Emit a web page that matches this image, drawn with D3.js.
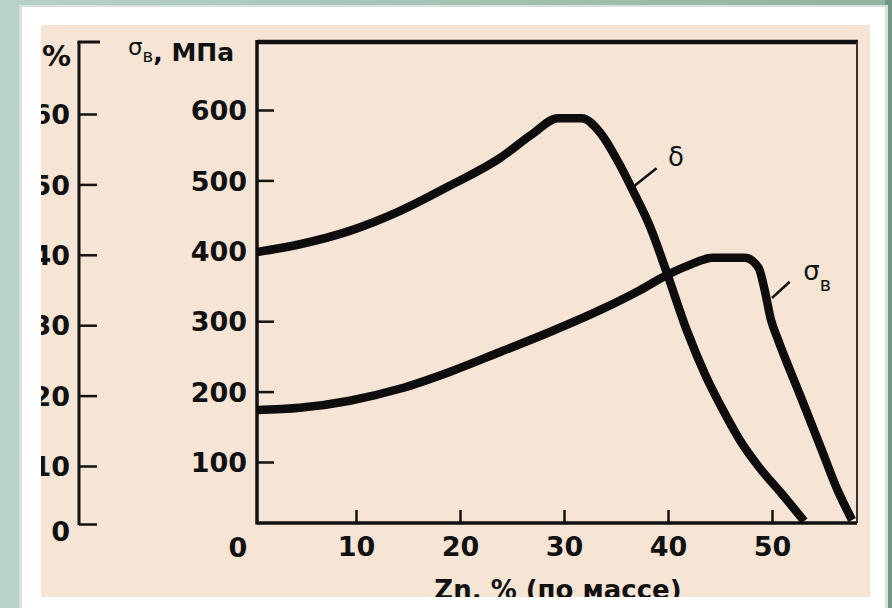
<!DOCTYPE html>
<html>
<head>
<meta charset="utf-8">
<script src="https://cdn.jsdelivr.net/npm/d3@7"></script>
<style>
  html, body { margin: 0; padding: 0; }
  body { width: 892px; height: 608px; overflow: hidden; }
  svg { display: block; font-family: 'DejaVu Sans', 'Liberation Sans', sans-serif; }
  .tick text { font-size: 27px; font-weight: bold; fill: #111; font-family: 'DejaVu Sans', sans-serif; }
  .tick line { stroke: #111; stroke-width: 2.5; }
</style>
</head>
<body>
<svg id="chart" width="892" height="608"></svg>
<script>
// Zn, % (by mass) vs elongation δ, %
const znDelta = [0.5, 4.6, 9.4, 14.2, 19.0, 23.8, 27.0, 29.4, 31.7, 33.5, 35.1, 36.6, 38.3, 39.9, 41.8, 43.6, 45.2, 46.9, 48.8, 50.8, 53.1];
const delta = [40.4, 41.5, 43.4, 46.2, 49.8, 53.7, 57.2, 59.4, 59.4, 57.3, 53.5, 49.2, 43.9, 37.4, 29.3, 22.9, 18.2, 13.7, 9.7, 5.5, 0.5];

// Zn, % (by mass) vs tensile strength σв, MPa
const znSigma = [0.5, 4.6, 9.4, 14.2, 19.0, 23.8, 28.7, 33.5, 37.3, 39.7, 42.1, 44.3, 47.4, 48.7, 49.3, 49.9, 50.6, 52.7, 54.6, 56.3, 57.7];
const sigma = [174, 177, 187, 204, 228, 256, 285, 316, 344, 364, 380, 390, 390, 376, 344, 302, 273, 195, 124, 54, 5];

const xTicks = [10, 20, 30, 40, 50];
const mpaTicks = [100, 200, 300, 400, 500, 600];
const pctTicks = [0, 10, 20, 30, 40, 50, 60];

const width = 892;
const height = 608;
const frame = { left: 257, right: 857, top: 42, bottom: 523 };
const pctAxisX = 79;

const svg = d3.select('#chart');

const defs = svg.append('defs');
const bg = defs.append('linearGradient').attr('id', 'bg').attr('x1', 0).attr('x2', 1).attr('y1', 0).attr('y2', 0);
bg.append('stop').attr('offset', '0%').attr('stop-color', '#b9d2c8');
bg.append('stop').attr('offset', '100%').attr('stop-color', '#92b2a2');
defs.append('clipPath').attr('id', 'panel-clip')
  .append('rect').attr('x', 41).attr('y', 25).attr('width', 829).attr('height', 572);

svg.append('rect').attr('width', width).attr('height', height).attr('fill', 'url(#bg)');
svg.append('rect').attr('x', 885).attr('y', 0).attr('width', 7).attr('height', height).attr('fill', '#6f9886');
svg.append('rect').attr('x', 19).attr('y', 5).attr('width', 869).attr('height', 610).attr('fill', '#d8e2dd');
svg.append('rect').attr('x', 22).attr('y', 7).attr('width', 863).attr('height', 610).attr('fill', '#ffffff');
svg.append('rect').attr('x', 41).attr('y', 25).attr('width', 829).attr('height', 572).attr('fill', '#f6e5d5');

const chart = svg.append('g').attr('clip-path', 'url(#panel-clip)');

const x = d3.scaleLinear().domain([0, 50]).range([252, 772]);
const yMpa = d3.scaleLinear().domain([0, 100, 600]).range([frame.bottom, 462, 110]);
const yPct = d3.scaleLinear().domain([0, 10, 60]).range([524, 466, 114]);

// frame of the main plot
chart.append('line').attr('x1', frame.left).attr('x2', frame.right + 1)
  .attr('y1', frame.top).attr('y2', frame.top).attr('stroke', '#111').attr('stroke-width', 4.5);
chart.append('line').attr('x1', frame.right).attr('x2', frame.right)
  .attr('y1', frame.top).attr('y2', frame.bottom).attr('stroke', '#333').attr('stroke-width', 2);
chart.append('line').attr('x1', frame.left).attr('x2', frame.left)
  .attr('y1', frame.top - 2).attr('y2', frame.bottom + 1.5).attr('stroke', '#111').attr('stroke-width', 3.5);
chart.append('line').attr('x1', frame.left).attr('x2', frame.right)
  .attr('y1', frame.bottom).attr('y2', frame.bottom).attr('stroke', '#111').attr('stroke-width', 3.5);

// σв axis
const mpaAxis = chart.append('g')
  .attr('transform', `translate(${frame.left},0)`)
  .call(d3.axisLeft(yMpa).tickValues(mpaTicks).tickSizeInner(-17).tickSizeOuter(0).tickPadding(10));
mpaAxis.select('.domain').remove();
mpaAxis.selectAll('.tick text').attr('dy', '0.36em');

// x axis
const xAxis = chart.append('g')
  .attr('transform', `translate(0,${frame.bottom})`)
  .call(d3.axisBottom(x).tickValues(xTicks).tickSizeInner(-13).tickSizeOuter(0).tickPadding(14));
xAxis.select('.domain').remove();

chart.append('text')
  .attr('x', 238).attr('y', 557)
  .attr('text-anchor', 'middle')
  .attr('font-size', 27).attr('font-weight', 'bold').attr('fill', '#111')
  .text('0');

// δ axis (%)
const pctAxis = chart.append('g')
  .attr('transform', `translate(${pctAxisX},0)`)
  .call(d3.axisLeft(yPct).tickValues(pctTicks).tickSizeInner(-18).tickSizeOuter(0).tickPadding(9));
pctAxis.select('.domain').remove();
pctAxis.selectAll('.tick text').attr('dy', (d) => (d === 0 ? '0.6em' : '0.36em'));
chart.append('line').attr('x1', pctAxisX).attr('x2', pctAxisX)
  .attr('y1', frame.top).attr('y2', yPct(0) + 1).attr('stroke', '#111').attr('stroke-width', 3);
chart.append('line').attr('x1', pctAxisX - 1.5).attr('x2', pctAxisX + 21)
  .attr('y1', frame.top).attr('y2', frame.top).attr('stroke', '#111').attr('stroke-width', 3);

// axis titles
chart.append('text')
  .attr('x', 42).attr('y', 66)
  .attr('font-size', 29).attr('font-weight', 'bold').attr('fill', '#111')
  .text('%');

const mpaTitle = chart.append('text').attr('fill', '#111');
mpaTitle.append('tspan').attr('x', 128).attr('y', 55).attr('font-size', 23).text('σ');
mpaTitle.append('tspan').attr('y', 62).attr('font-size', 18).text('в');
mpaTitle.append('tspan').attr('y', 61).attr('font-size', 25).attr('font-weight', 'bold').text(', МПа');

chart.append('text')
  .attr('x', 558).attr('y', 599)
  .attr('text-anchor', 'middle')
  .attr('font-size', 26).attr('font-weight', 'bold').attr('fill', '#111')
  .text('Zn, % (по массе)');

// curves
const deltaLine = d3.line()
  .x((d, i) => x(znDelta[i]))
  .y((d) => yPct(d))
  .curve(d3.curveMonotoneX);

const sigmaLine = d3.line()
  .x((d, i) => x(znSigma[i]))
  .y((d) => yMpa(d))
  .curve(d3.curveMonotoneX);

chart.append('path').datum(delta).attr('d', deltaLine)
  .attr('fill', 'none').attr('stroke', '#0d0d0d').attr('stroke-width', 8.5).attr('stroke-linejoin', 'round');
chart.append('path').datum(sigma).attr('d', sigmaLine)
  .attr('fill', 'none').attr('stroke', '#0d0d0d').attr('stroke-width', 8.5).attr('stroke-linejoin', 'round');

// curve labels with leader lines
chart.append('line')
  .attr('x1', x(36.6)).attr('y1', yPct(49.6)).attr('x2', x(38.9)).attr('y2', yPct(52.3))
  .attr('stroke', '#111').attr('stroke-width', 2.5);
chart.append('text')
  .attr('x', x(40.0)).attr('y', yPct(52.6))
  .attr('font-size', 26).attr('fill', '#111')
  .text('δ');

chart.append('line')
  .attr('x1', x(50.0)).attr('y1', yMpa(333)).attr('x2', x(51.7)).attr('y2', yMpa(356))
  .attr('stroke', '#111').attr('stroke-width', 2.5);
const sigmaLabel = chart.append('text').attr('fill', '#111');
sigmaLabel.append('tspan').attr('x', x(53.0)).attr('y', yMpa(358)).attr('font-size', 26).text('σ');
sigmaLabel.append('tspan').attr('y', yMpa(343)).attr('font-size', 19).text('в');
</script>
</body>
</html>
